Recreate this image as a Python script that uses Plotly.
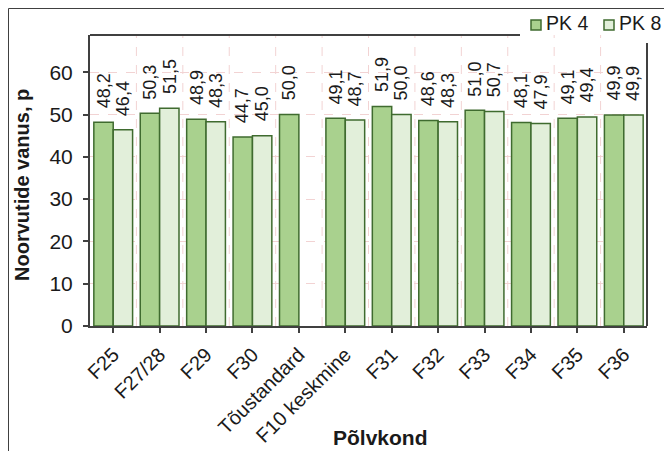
import plotly.graph_objects as go

categories = ["F25", "F27/28", "F29", "F30", "Tõustandard", "F10 keskmine",
              "F31", "F32", "F33", "F34", "F35", "F36"]
pk4 = [48.2, 50.3, 48.9, 44.7, 50.0, 49.1, 51.9, 48.6, 51.0, 48.1, 49.1, 49.9]
pk8 = [46.4, 51.5, 48.3, 45.0, None, 48.7, 50.0, 48.3, 50.7, 47.9, 49.4, 49.9]
series_names = ["PK 4", "PK 8"]
y_tick_vals = [0, 10, 20, 30, 40, 50, 60]

# the page body adds an 8px offset; figure coordinates = page coordinates - 8
OFF = 8
W, H = 672 - OFF, 459 - 2 * OFF
L, R, T = 82, 25, 27
B = H - 318
PW, PH = W - L - R, H - T - B


def px_x(px):
    return (px - OFF - L) / PW


def px_y(py):
    return (H - B - (py - OFF)) / PH


FONT = "Liberation Sans, Arial, sans-serif"
TXT = "#1a1a1a"
AX = "#404040"
GRID = "#f2d3d3"
EDGE = "#3f6b2f"
COLORS = ["#a9d18e", "#e2efda"]

fig = go.Figure()
for name, vals, col in zip(series_names, [pk4, pk8], COLORS):
    fig.add_trace(go.Bar(x=categories, y=vals, name=name, showlegend=False,
                         marker=dict(color=col, line=dict(color=EDGE, width=1.5))))

bargap = 0.165
bar_w = PW / len(categories) * (1 - bargap) / 2
annotations = []
for vals, sgn in [(pk4, -1), (pk8, 1)]:
    for cat, v in zip(categories, vals):
        if v is None:
            continue
        annotations.append(dict(
            x=cat, y=v, xref="x", yref="y", text=f"{v:.1f}".replace(".", ","),
            textangle=-90, showarrow=False, xanchor="center", yanchor="bottom",
            xshift=sgn * bar_w / 2, yshift=12,
            font=dict(family=FONT, size=18, color=TXT)))

annotations.append(dict(
    text="<b>Noorvutide vanus, p</b>", textangle=-90, showarrow=False,
    xref="paper", yref="paper", x=px_x(22), y=px_y(185),
    xanchor="center", yanchor="middle",
    font=dict(family=FONT, size=20, color=TXT)))
annotations.append(dict(
    text="<b>Põlvkond</b>", showarrow=False,
    xref="paper", yref="paper", x=px_x(380), y=px_y(437),
    xanchor="center", yanchor="middle",
    font=dict(family=FONT, size=21, color=TXT)))

shapes = []
# vertical dashed gridlines at category boundaries
for i in range(1, len(categories)):
    shapes.append(dict(type="line", xref="x", yref="paper", x0=i - 0.5, x1=i - 0.5,
                       y0=0, y1=1, layer="below",
                       line=dict(color=GRID, width=1, dash="dash")))
# plot frame top and right
shapes.append(dict(type="line", xref="paper", yref="paper", x0=0, x1=px_x(520),
                   y0=1, y1=1, line=dict(color=AX, width=2)))
shapes.append(dict(type="line", xref="paper", yref="paper", x0=1, x1=1,
                   y0=px_y(43), y1=0, line=dict(color=AX, width=2)))
# outer chart border (left and top)
shapes.append(dict(type="path", xref="paper", yref="paper",
                   path=f"M {px_x(8.5)},{px_y(480)} L {px_x(8.5)},{px_y(8.5)} L {px_x(690)},{px_y(8.5)}",
                   line=dict(color=AX, width=1)))

# legend (square swatch + label) placed in the top-right corner
legend_left = [531, 604]
for name, col, lx in zip(series_names, COLORS, legend_left):
    shapes.append(dict(type="rect", xref="paper", yref="paper",
                       x0=px_x(lx), x1=px_x(lx + 10), y0=px_y(30), y1=px_y(20),
                       fillcolor=col, line=dict(color=EDGE, width=1.5)))
    annotations.append(dict(
        text=name, showarrow=False, xref="paper", yref="paper",
        x=px_x(lx + 13), y=px_y(23), xanchor="left", yanchor="middle",
        font=dict(family=FONT, size=19.5, color=TXT)))

fig.update_layout(
    width=W, height=H,
    margin=dict(l=L, r=R, t=T, b=B, autoexpand=False),
    paper_bgcolor="white", plot_bgcolor="white",
    barmode="group", bargap=bargap, bargroupgap=0,
    font=dict(family=FONT, size=20, color=TXT),
    showlegend=False,
    annotations=annotations,
    shapes=shapes,
)
fig.update_xaxes(
    type="category", tickangle=-45, showgrid=False,
    showline=True, linecolor=AX, linewidth=2,
    ticks="outside", ticklen=5, tickwidth=1.5, tickcolor=AX, ticklabelstandoff=2,
    tickfont=dict(family=FONT, size=20, color=TXT))
fig.update_yaxes(
    range=[0, 68.8], tickvals=y_tick_vals, ticktext=[str(v) for v in y_tick_vals],
    showgrid=True, gridcolor=GRID, griddash="dash", gridwidth=1,
    zeroline=False,
    showline=True, linecolor=AX, linewidth=2,
    ticks="outside", ticklen=5, tickwidth=1.5, tickcolor=AX, ticklabelstandoff=6,
    tickfont=dict(family=FONT, size=21, color=TXT))

fig.write_html("out.html")
